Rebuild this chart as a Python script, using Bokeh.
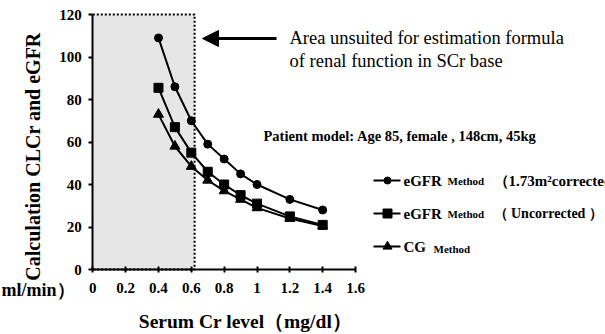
import math

from bokeh.plotting import figure
from bokeh.models import Range1d, FixedTicker, Arrow, NormalHead
from bokeh.core.properties import value
from bokeh.embed import file_html
from bokeh.resources import INLINE

# Serum creatinine levels (mg/dl) and calculated clearance / eGFR (ml/min)
scr = [0.4, 0.5, 0.6, 0.7, 0.8, 0.9, 1.0, 1.2, 1.4]
egfr_corrected = [109, 86, 70, 59, 52, 45, 40, 33, 28]
egfr_uncorrected = [85.5, 67, 55, 46, 40, 35, 31, 25, 21]
cg_method = [73, 58, 48.5, 42, 37, 33, 29, 24, 20.5]

x_ticks = [0, 0.2, 0.4, 0.6, 0.8, 1.0, 1.2, 1.4, 1.6]
x_tick_labels = ["0", "0.2", "0.4", "0.6", "0.8", "1", "1.2", "1.4", "1.6"]
y_ticks = [0, 20, 40, 60, 80, 100, 120]

unsuited_limit = 0.62   # upper SCr bound of the unsuited area
y_top = 120

W, H = 605, 334
# pixel position of the data origin and pixels per data unit
X0, Y0 = 92.3, 269.0
SX, SY = 164.2, 2.125

SERIF = "Liberation Serif"

p = figure(width=W, height=H,
           x_range=Range1d(-X0 / SX, (W - X0) / SX),
           y_range=Range1d(-(H - Y0) / SY, Y0 / SY),
           output_backend="svg", toolbar_location=None,
           min_border=0, min_border_left=0, min_border_right=0,
           min_border_top=0, min_border_bottom=0)
p.outline_line_color = None
p.grid.visible = False
p.background_fill_color = "white"


def dx(px):
    """screen x (px) -> data x"""
    return (px - X0) / SX


def dy(py):
    """screen y (px) -> data y"""
    return (Y0 - py) / SY


# shaded area where SCr-based formulas are unsuited
p.quad(left=0, right=unsuited_limit, bottom=0, top=y_top,
       fill_color="#e6e6e6", line_color=None)
p.line([0, unsuited_limit, unsuited_limit, 0], [y_top, y_top, 0, 0],
       line_color="black", line_width=2, line_dash="2 2")

# series
series = [
    (egfr_corrected, "circle", 8),
    (egfr_uncorrected, "square", 9),
    (cg_method, "triangle", 10),
]
for vals, marker, size in series:
    p.line(scr, vals, line_color="black", line_width=2)
    p.scatter(scr, vals, marker=marker, size=size,
              fill_color="black", line_color="black")

# axes crossing at the origin
xa = p.xaxis[0]
xa.fixed_location = 0
xa.bounds = (0, 1.6)
xa.ticker = FixedTicker(ticks=x_ticks)
xa.major_label_overrides = {t: s for t, s in zip(x_ticks, x_tick_labels)}
xa.minor_tick_line_color = None
xa.major_tick_in = 3
xa.major_tick_out = 3
xa.major_label_standoff = 10

ya = p.yaxis[0]
ya.fixed_location = 0
ya.bounds = (0, 120)
ya.ticker = FixedTicker(ticks=y_ticks)
ya.minor_tick_line_color = None
ya.major_tick_in = 0
ya.major_tick_out = 4
ya.major_label_standoff = 7

for ax in (xa, ya):
    ax.axis_line_width = 2
    ax.axis_line_color = "black"
    ax.major_tick_line_width = 2
    ax.major_tick_line_color = "black"
    ax.major_label_text_font = SERIF
    ax.major_label_text_font_style = "bold"
    ax.major_label_text_font_size = "15px"
    ax.major_label_text_color = "black"


def label(text, px, py, size, style="bold", align="left", angle=0.0):
    p.text(x=[dx(px)], y=[dy(py)], text=[text], text_font=value(SERIF),
           text_font_style=style, text_font_size=f"{size}px",
           text_color="black", text_align=align, text_baseline="middle",
           angle=angle)


# axis titles
label("Calculation CLCr and eGFR", 32, 156, 20, align="center", angle=math.pi / 2)
label("（ml/min）", 74, 289, 18, align="right")
label("Serum Cr level（mg/dl）", 245, 321, 19.5, align="center")

# annotation for the shaded area
p.add_layout(Arrow(end=NormalHead(size=16, fill_color="black", line_color="black"),
                   x_start=dx(276), y_start=dy(38), x_end=dx(202), y_end=dy(38),
                   line_width=3, line_color="black"))
label("Area unsuited for estimation formula", 289, 37, 18.5, style="normal")
label("of renal function in SCr base", 289, 60, 18.5, style="normal")

label("Patient model: Age 85,  female , 148cm, 45kg", 263, 135, 14.5)

# legend
legend_rows = [
    ("circle", 7, 180, [("eGFR", 403, 15, 0), ("Method", 447, 11, 0),
                        ("（1.73m²corrected）", 493, 15, 0)]),
    ("square", 9, 213, [("eGFR", 403, 15, 0), ("Method", 447, 11, 0),
                        ("（ Uncorrected ）", 493, 14, 0)]),
    ("triangle", 9, 246, [("CG", 403, 15, 0), ("Method", 433, 11, 2)]),
]
for marker, size, row_y, parts in legend_rows:
    p.line([dx(373), dx(400)], [dy(row_y), dy(row_y)], line_color="black", line_width=2)
    p.scatter([dx(387)], [dy(row_y)], marker=marker, size=size,
              fill_color="black", line_color="black")
    for text, px, fs, off in parts:
        label(text, px, row_y + off, fs)

open("out.html", "w").write(file_html(p, INLINE))
